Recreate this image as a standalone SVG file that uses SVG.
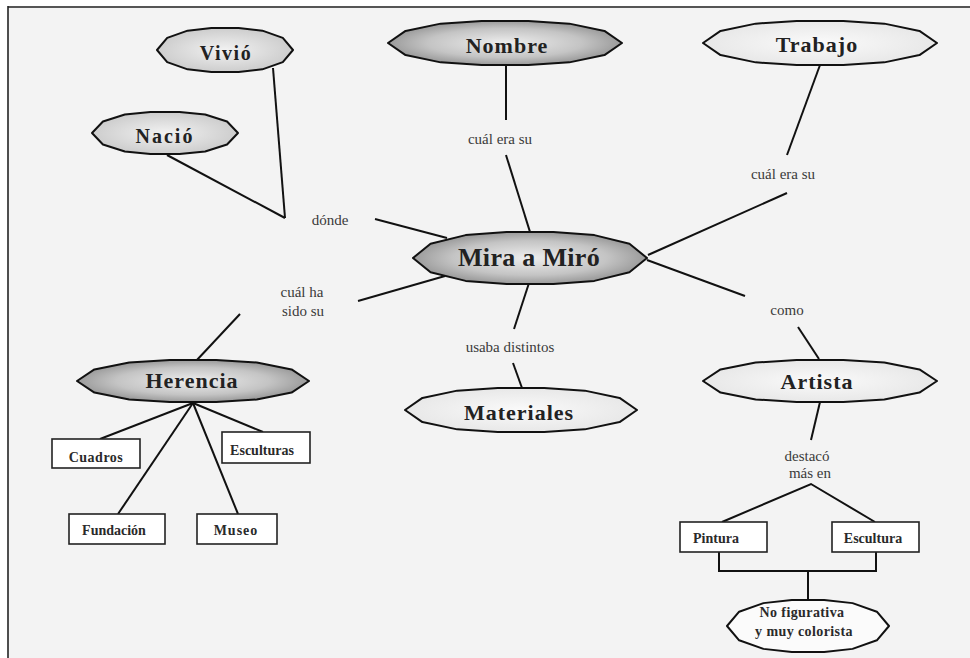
<svg xmlns="http://www.w3.org/2000/svg" xmlns:xlink="http://www.w3.org/1999/xlink" width="970" height="658" viewBox="0 0 970 658">
<style>
.oct{stroke:#111;stroke-width:2;vector-effect:non-scaling-stroke;stroke-linejoin:round}
.box{fill:#fff;stroke:#222;stroke-width:1.6}
.conn line,.conn polyline{stroke:#111;stroke-width:2;fill:none}
.nt{font-family:"Liberation Serif","Times New Roman",serif;font-weight:bold;fill:#222;text-anchor:middle;font-size:22px;letter-spacing:1px}
.bt{font-family:"Liberation Serif","Times New Roman",serif;font-weight:bold;fill:#2a2a2a;text-anchor:middle;font-size:14px}
.lt{font-family:"Liberation Serif","Times New Roman",serif;fill:#3a3a3a;text-anchor:middle;font-size:15px}
</style>
<defs>
<polygon id="oct" class="oct" points="-1,0 -0.85,-0.55 -0.55,-0.88 -0.2,-1 0.2,-1 0.55,-0.88 0.85,-0.55 1,0 0.85,0.55 0.55,0.88 0.2,1 -0.2,1 -0.55,0.88 -0.85,0.55"/>
<radialGradient id="gDark" cx="0.5" cy="0.5" r="0.55">
<stop offset="0" stop-color="#eeeeee"/><stop offset="0.6" stop-color="#c4c4c4"/><stop offset="1" stop-color="#8e8e8e"/>
</radialGradient>
<radialGradient id="gLight" cx="0.5" cy="0.5" r="0.55">
<stop offset="0" stop-color="#f2f2f2"/><stop offset="1" stop-color="#c9c9c9"/>
</radialGradient>
<radialGradient id="gPale" cx="0.5" cy="0.5" r="0.55">
<stop offset="0" stop-color="#fafafa"/><stop offset="1" stop-color="#e6e6e6"/>
</radialGradient>
</defs>
<rect x="0" y="0" width="970" height="658" fill="#fff"/>
<rect x="8" y="7" width="962" height="651" fill="#f3f3f3"/>
<line x1="8" y1="7" x2="970" y2="7" stroke="#555" stroke-width="2"/>
<line x1="8" y1="6" x2="8" y2="658" stroke="#222" stroke-width="1.6"/>

<g id="connectors" class="conn">
<line x1="273" y1="68" x2="285" y2="218"/>
<line x1="167" y1="155" x2="285" y2="218"/>
<line x1="375" y1="219" x2="447" y2="238"/>
<line x1="506" y1="65" x2="506" y2="120"/>
<line x1="506" y1="155" x2="530" y2="232"/>
<line x1="820" y1="65" x2="787" y2="155"/>
<line x1="787" y1="193" x2="648" y2="255"/>
<line x1="647" y1="260" x2="745" y2="296"/>
<line x1="798" y1="327" x2="819" y2="359"/>
<line x1="445" y1="276" x2="358" y2="301"/>
<line x1="240" y1="314" x2="196" y2="361"/>
<line x1="529" y1="283" x2="514" y2="329"/>
<line x1="513" y1="363" x2="522" y2="388"/>
<line x1="193" y1="403" x2="100" y2="439"/>
<line x1="193" y1="403" x2="263" y2="432"/>
<line x1="193" y1="403" x2="118" y2="514"/>
<line x1="193" y1="403" x2="238" y2="514"/>
<line x1="820" y1="402" x2="811" y2="440"/>
<polyline points="722,522 811,484 875,522"/>
<polyline points="719,552 719,571 876,571 876,552"/>
<line x1="808" y1="571" x2="808" y2="600"/>
</g>

<g id="labels">
<text class="lt" x="330" y="225">dónde</text>
<text class="lt" x="500" y="144">cuál era su</text>
<text class="lt" x="783" y="179">cuál era su</text>
<text class="lt" x="302" y="297">cuál ha</text>
<text class="lt" x="303" y="316">sido su</text>
<text class="lt" x="510" y="352">usaba distintos</text>
<text class="lt" x="787" y="315">como</text>
<text class="lt" x="807" y="461">destacó</text>
<text class="lt" x="810" y="478">más en</text>
</g>

<g id="vivio">
<use xlink:href="#oct" fill="url(#gLight)" transform="translate(225,50) scale(68,22)"/>
<text class="nt" x="226" y="60" style="font-size:20px;letter-spacing:1.5px">Vivió</text>
</g>
<g id="nacio">
<use xlink:href="#oct" fill="url(#gLight)" transform="translate(165,133) scale(73,21)"/>
<text class="nt" x="165" y="143" style="font-size:20px;letter-spacing:2px">Nació</text>
</g>
<g id="nombre">
<use xlink:href="#oct" fill="url(#gDark)" transform="translate(505,43) scale(117,22)"/>
<text class="nt" x="507" y="53">Nombre</text>
</g>
<g id="trabajo">
<use xlink:href="#oct" fill="url(#gPale)" transform="translate(820,43) scale(117,22)"/>
<text class="nt" x="817" y="52">Trabajo</text>
</g>
<g id="mira">
<use xlink:href="#oct" fill="url(#gDark)" transform="translate(530,258) scale(117,26)"/>
<text class="nt" x="529" y="266" style="font-size:26px;letter-spacing:0.3px">Mira a Miró</text>
</g>
<g id="herencia">
<use xlink:href="#oct" fill="url(#gDark)" transform="translate(193,381) scale(116,21)"/>
<text class="nt" x="192" y="388">Herencia</text>
</g>
<g id="materiales">
<use xlink:href="#oct" fill="url(#gPale)" transform="translate(521,410) scale(116,22)"/>
<text class="nt" x="519" y="420">Materiales</text>
</g>
<g id="artista">
<use xlink:href="#oct" fill="url(#gPale)" transform="translate(820,381) scale(117,21)"/>
<text class="nt" x="817" y="389">Artista</text>
</g>
<g id="cuadros">
<rect class="box" x="52" y="439" width="88" height="29"/>
<text class="bt" x="96" y="462" style="letter-spacing:0.5px">Cuadros</text>
</g>
<g id="esculturas">
<rect class="box" x="222" y="432" width="88" height="31"/>
<text class="bt" x="262" y="455">Esculturas</text>
</g>
<g id="fundacion">
<rect class="box" x="69" y="514" width="96" height="30"/>
<text class="bt" x="114" y="535">Fundación</text>
</g>
<g id="museo">
<rect class="box" x="197" y="514" width="80" height="30"/>
<text class="bt" x="236" y="535" style="letter-spacing:1px">Museo</text>
</g>
<g id="pintura">
<rect class="box" x="680" y="522" width="87" height="30"/>
<text class="bt" x="716" y="543">Pintura</text>
</g>
<g id="escultura">
<rect class="box" x="832" y="522" width="87" height="30"/>
<text class="bt" x="873" y="543">Escultura</text>
</g>
<g id="nofigurativa">
<use xlink:href="#oct" fill="#fbfbfb" transform="translate(808,626) scale(81,26)"/>
<text class="bt" x="802" y="617" style="letter-spacing:0.4px">No figurativa</text>
<text class="bt" x="804" y="636" style="letter-spacing:0.4px">y muy colorista</text>
</g>
</svg>
